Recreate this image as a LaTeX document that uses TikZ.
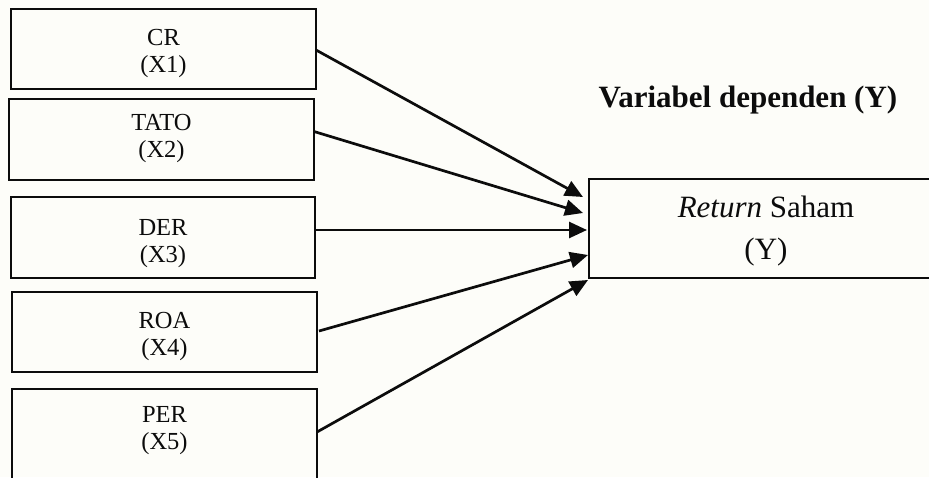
\documentclass[tikz,border=0pt]{standalone}
\usepackage{fontspec}
\setmainfont{Liberation Serif}
\usetikzlibrary{arrows.meta,calc}
\definecolor{paper}{RGB}{253,253,249}
\definecolor{ink}{RGB}{12,12,12}
\begin{document}
\begin{tikzpicture}[x=1pt,y=-1pt,
  varbox/.style={draw=ink,line width=2.2pt,inner sep=0pt,outer sep=0pt},
  boxtext/.style={inner sep=0pt,anchor=north,align=center,
    font=\fontsize{24.5}{27.5}\selectfont,text=ink},
  link/.style={draw=ink,line width=2.7pt,-{Triangle[length=18pt,width=16pt]}}]
\fill[paper] (0,0) rectangle (929,477);
\useasboundingbox (0,0) rectangle (929,477);
\clip (0,0) rectangle (929,477);

% independent variables
\node[varbox,minimum width=305,minimum height=80] (b1) at (163.5,49) {};
\node[varbox,minimum width=305,minimum height=81] (b2) at (161.5,139.5) {};
\node[varbox,minimum width=304,minimum height=81] (b3) at (163,237.5) {};
\node[varbox,minimum width=305,minimum height=80] (b4) at (164.5,332) {};
\node[varbox,minimum width=305,minimum height=131] (b5) at (164.5,454.5) {};

\node[boxtext] (b1t) at (163.5,29) {CR\\(X1)};
\node[boxtext] (b2t) at (161.5,114) {TATO\\(X2)};
\node[boxtext] (b3t) at (163,219) {DER\\(X3)};
\node[boxtext] (b4t) at (164.5,312) {ROA\\(X4)};
\node[boxtext] (b5t) at (164.5,406) {PER\\(X5)};

% dependent variable
\node[varbox,line width=1.9pt,minimum width=381,minimum height=99] (y) at (779.5,228.5) {};
\node[inner sep=0pt,anchor=north,align=center,text=ink,
  font=\fontsize{31}{42}\selectfont] (yt) at (766,195.5) {\textit{Return} Saham\\(Y)};
\node[inner sep=0pt,anchor=base,text=ink,
  font=\bfseries\fontsize{31}{37}\selectfont] (title) at (748,107) {Variabel dependen (Y)};

% arrows
\draw[link] ($(b1.east)+(0,1)$)   -- ($(y.west)+(-6,-31.5)$);
\draw[link] ($(b2.east)+(0,-8)$)  -- ($(y.west)+(-6,-15.5)$);
\draw[link] ($(b3.east)+(0,-7.5)$) -- ($(y.west)+(-2,1.5)$);
\draw[link] ($(b4.east)+(2,-1)$)  -- ($(y.west)+(-1,26.5)$);
\draw[link] ($(b5.east)+(0,-22.5)$) -- ($(y.west)+(-1,51.5)$);
\end{tikzpicture}
\end{document}
